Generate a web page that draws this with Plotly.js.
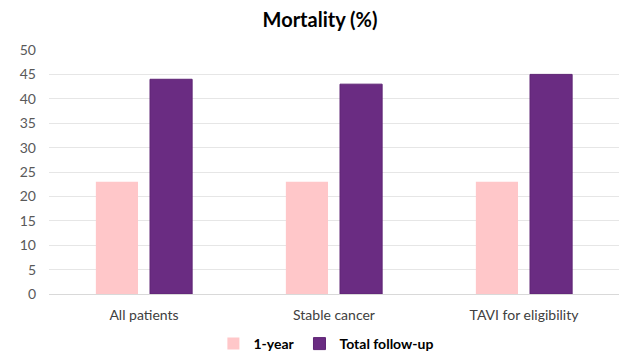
<!DOCTYPE html>
<html><head><meta charset="utf-8">
<script src="https://cdn.plot.ly/plotly-3.0.1.min.js"></script>
<style>html,body{margin:0;padding:0;background:#fff}</style>
</head><body>
<div id="chart" style="width:640px;height:360px"></div>
<script>
const categories = ["All patients", "Stable cancer", "TAVI for eligibility"];
const oneYear = [23, 23, 23];
const totalFollowUp = [44, 43, 45];
const seriesNames = ["1-year", "Total follow-up"];

const data = [
  {type: "bar", name: seriesNames[0], x: categories, y: oneYear, marker: {color: "#FFC7C9"}},
  {type: "bar", name: seriesNames[1], x: categories, y: totalFollowUp, marker: {color: "#6A2C82", line: {color: "#5E2575", width: 1}}}
];
const layout = {
  width: 640, height: 360,
  margin: {l: 49, r: 21, t: 50, b: 66},
  paper_bgcolor: "#fff", plot_bgcolor: "#fff",
  font: {family: "Lato, 'Open Sans', sans-serif", color: "#595959", size: 14},
  title: {text: "<b>Mortality (%)</b>", x: 0.5, xanchor: "center", y: 0.945, yanchor: "middle", font: {size: 20, color: "#000"}},
  barmode: "group", bargap: 0.43, bargroupgap: 0.222,
  xaxis: {showgrid: false, showline: true, linecolor: "#D9D9D9", ticks: "", tickfont: {size: 14, color: "#404040"}, automargin: false, ticklabelstandoff: 8},
  yaxis: {range: [0, 50], dtick: 5, gridcolor: "#E6E6E6", zeroline: false, ticks: "", ticklen: 0, tickfont: {size: 14, color: "#595959"}, automargin: false, ticklabelstandoff: 12},
  legend: {orientation: "h", x: 0.51, xanchor: "center", xref: "container", yref: "container", y: 0.0, yanchor: "bottom", font: {size: 14, color: "#000", weight: "bold"}, itemwidth: 30, traceorder: "normal"},
  showlegend: true
};
Plotly.newPlot("chart", data, layout, {displayModeBar: false, staticPlot: true});
</script>
</body></html>
